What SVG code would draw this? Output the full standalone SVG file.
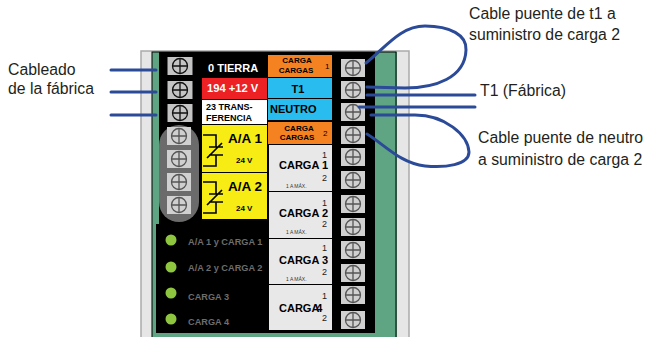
<svg xmlns="http://www.w3.org/2000/svg" width="647" height="337" viewBox="0 0 647 337">
<style>
text{font-family:"Liberation Sans",Arial,sans-serif;fill:#000}
.lbl{font-size:15.800px;fill:#231f20}
.b{font-weight:bold}
.led{fill:#8fc63f}
.ledt{font-size:9.200px;font-weight:bold;fill:#6d6d6d}
.cable{fill:none;stroke:#2b4a98;stroke-width:3;stroke-linecap:round}
.sc{fill:#c4c4c4}
.sc2{fill:#d0d0d0}
.ch{fill:none;stroke:#111;stroke-width:1.3}
.ch2{fill:none;stroke:#555;stroke-width:1.3}
.tiny{font-size:5px;fill:#333}
.num{font-size:9px;fill:#222}
.cg{font-size:11px;font-weight:bold}
.sym{fill:none;stroke:#000;stroke-width:1.6}
</style>
<defs>
<g id="s1"><rect class="sc" x="-12.500" y="-9" width="25" height="18"/><circle class="ch" r="7.500"/><path class="ch" d="M-7.500 0H7.500M0-7.500V7.500"/></g>
<g id="s2"><rect class="sc2" x="-12" y="-9" width="24" height="18"/><circle class="ch2" r="7.500"/><path class="ch2" d="M-7.500 0H7.500M0-7.500V7.500"/></g>
<g id="coil"><path class="sym" d="M203 135H216V147M216 155V166H203M209 147H223M209 155H223M207 158L222 143"/></g>
</defs>
<g id="chassis">
<rect x="141" y="51" width="268" height="287" fill="#e6e6e6" stroke="#aaa" stroke-width="1.500"/>
<rect x="152" y="52" width="245" height="286" fill="#5fa583"/>
<rect x="159" y="52" width="42" height="172" fill="#000"/>
<rect x="156" y="224" width="112" height="109" fill="#000"/>
<rect x="201" y="52" width="67" height="180" fill="#000"/>
<rect x="267" y="52" width="108" height="281" fill="#000"/>
<rect x="152" y="52" width="244" height="286" fill="none" stroke="#000" stroke-width="1"/>
</g>
<g id="block-left">
<use href="#s1" x="180" y="66"/><use href="#s1" x="180" y="90"/><use href="#s1" x="180" y="113"/>
<rect x="159" y="125" width="40" height="97" rx="20" fill="#6b6b6b"/>
<use href="#s2" x="179" y="136"/><use href="#s2" x="179" y="159"/><use href="#s2" x="179" y="182"/><use href="#s2" x="179" y="205"/>
</g>
<g id="terminal-labels">
<text x="208" y="72" class="b" font-size="11" style="fill:#fff">0 TIERRA</text>
<rect x="202" y="78" width="65" height="21" fill="#ed2024"/>
<text x="207" y="92" class="b" font-size="11.200" style="fill:#fff">194 +12 V</text>
<rect x="202" y="100" width="65" height="24" fill="#fff"/>
<text x="206" y="110" class="b" font-size="9">23 TRANS-</text>
<text x="206" y="121" class="b" font-size="9">FERENCIA</text>
</g>
<g id="aa1"><rect x="202" y="125" width="65" height="47" fill="#f7ec13"/><use href="#coil"/><text x="228" y="143" class="b" font-size="13.500">A/A 1</text><text x="236" y="163" class="b" font-size="8">24 V</text></g>
<g id="aa2"><rect x="202" y="173" width="65" height="46" fill="#f7ec13"/><use href="#coil" y="47"/><text x="228" y="191" class="b" font-size="13.500">A/A 2</text><text x="236" y="211" class="b" font-size="8">24 V</text></g>
<g id="carga-cargas-1"><rect x="268" y="55" width="64" height="22" fill="#f58220"/><text x="297" y="63" class="b" font-size="8" text-anchor="middle">CARGA</text><text x="296" y="73" class="b" font-size="8" text-anchor="middle">CARGAS</text><text x="325" y="69" font-size="8">1</text></g>
<g id="t1"><rect x="268" y="78" width="64" height="20" fill="#29bdef"/><text x="298" y="93" class="b" font-size="11" text-anchor="middle">T1</text></g>
<g id="neutro"><rect x="268" y="99" width="64" height="21" fill="#29bdef"/><text x="270" y="113" class="b" font-size="11">NEUTRO</text></g>
<g id="carga-cargas-2"><rect x="268" y="122" width="64" height="22" fill="#f58220"/><text x="299" y="131" class="b" font-size="8" text-anchor="middle">CARGA</text><text x="297" y="140" class="b" font-size="8" text-anchor="middle">CARGAS</text><text x="323" y="136" font-size="8">2</text></g>
<g id="carga1"><rect x="269" y="145" width="63" height="46" fill="#e8e8e8"/><text x="279" y="169" class="cg">CARGA 1</text><text x="322" y="158" class="num">1</text><text x="322" y="181" class="num">2</text><text x="286" y="188" class="tiny">1 A MÁX.</text></g>
<g id="carga2"><rect x="269" y="192" width="63" height="46" fill="#e8e8e8"/><text x="279" y="217" class="cg">CARGA 2</text><text x="322" y="206" class="num">1</text><text x="322" y="227" class="num">2</text><text x="286" y="234" class="tiny">1 A MÁX.</text></g>
<g id="carga3"><rect x="269" y="239" width="63" height="45" fill="#e8e8e8"/><text x="279" y="264" class="cg">CARGA 3</text><text x="322" y="251" class="num">1</text><text x="322" y="275" class="num">2</text><text x="286" y="281" class="tiny">1 A MÁX.</text></g>
<g id="carga4"><rect x="269" y="285" width="63" height="45" fill="#e8e8e8"/><text x="279" y="312" class="cg">CARGA<tspan dx="-3">4</tspan></text><text x="322" y="299" class="num">1</text><text x="322" y="321" class="num">2</text></g>
<g id="block-right">
<use href="#s2" x="353" y="68"/><use href="#s2" x="353" y="90"/><use href="#s2" x="353" y="112"/><use href="#s2" x="353" y="135"/><use href="#s2" x="353" y="157"/><use href="#s2" x="353" y="180"/><use href="#s2" x="353" y="204"/><use href="#s2" x="353" y="227"/><use href="#s2" x="353" y="250"/><use href="#s2" x="353" y="273"/><use href="#s2" x="353" y="295"/><use href="#s2" x="353" y="320"/>
</g>
<g id="leds">
<circle class="led" cx="171" cy="240" r="5.500"/><text x="188" y="245" class="ledt">A/A 1 y CARGA 1</text>
<circle class="led" cx="171" cy="267" r="5.500"/><text x="188" y="271" class="ledt">A/A 2 y CARGA 2</text>
<circle class="led" cx="171" cy="293" r="5.500"/><text x="188" y="300" class="ledt">CARGA 3</text>
<circle class="led" cx="171" cy="319" r="5.500"/><text x="188" y="325" class="ledt">CARGA 4</text>
</g>
<g id="connectors">
<path class="cable" d="M111 70H156M111 92H156M111 115H156"/>
<path class="cable" d="M366 63C385 48 400 26 425 26C450 26 467 35 466 50C465 78 435 88 405 88L367 87"/>
<path class="cable" d="M367 95H475M359 107H475"/>
<path class="cable" d="M371 115H415C445 115 468 135 469 152C469 165 445 168 425 166C400 163 385 145 367 134"/>
</g>
<g id="labels">
<text x="8" y="75" class="lbl">Cableado</text>
<text x="8" y="94" class="lbl">de la fábrica</text>
<text x="469" y="19" class="lbl">Cable puente de t1 a</text>
<text x="469" y="40" class="lbl">suministro de carga 2</text>
<text x="480" y="96" class="lbl">T1 (Fábrica)</text>
<text x="478" y="143" class="lbl">Cable puente de neutro</text>
<text x="478" y="165" class="lbl">a suministro de carga 2</text>
</g>
</svg>
